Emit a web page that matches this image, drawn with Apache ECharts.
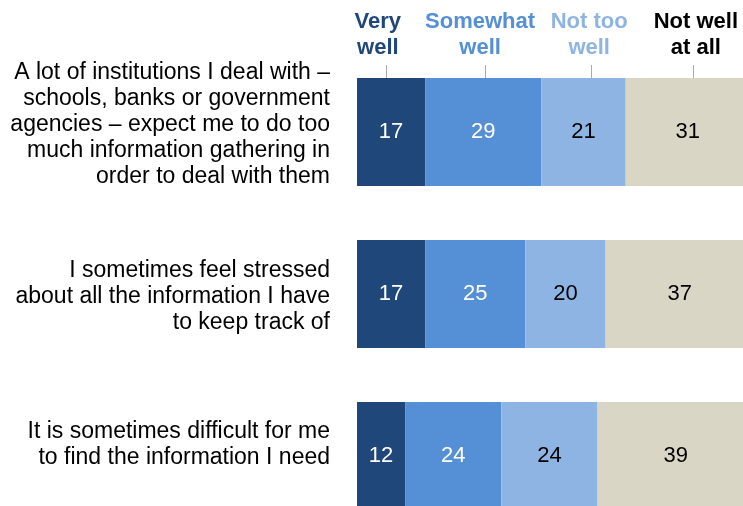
<!DOCTYPE html>
<html>
<head>
<meta charset="utf-8">
<script src="https://cdn.jsdelivr.net/npm/echarts@6/dist/echarts.min.js"></script>
<style>html,body{margin:0;padding:0;background:#fff}#c{width:743px;height:506px}</style>
</head>
<body>
<div id="c"></div>
<script>
var categories = [
  'A lot of institutions I deal with –\nschools, banks or government\nagencies – expect me to do too\nmuch information gathering in\norder to deal with them',
  'I sometimes feel stressed\nabout all the information I have\nto keep track of',
  'It is sometimes difficult for me\nto find the information I need'
];
var seriesNames = ['Very well', 'Somewhat well', 'Not too well', 'Not well at all'];
var headerLabels = ['Very\nwell', 'Somewhat\nwell', 'Not too\nwell', 'Not well\nat all'];
var veryWell = [17, 17, 12];
var somewhatWell = [29, 25, 24];
var notTooWell = [21, 20, 24];
var notWellAtAll = [31, 37, 39];
var headerPositions = [5.2, 30.7, 57.9, 84.5]; // header text centres in axis units
var tickPositions = [7.15, 31.9, 58.4, 83.8];  // header tick marks in axis units

var colors = ['#1f477a', '#558fd5', '#8eb4e3', '#dad6c6'];
var labelColors = ['#ffffff', '#ffffff', '#000000', '#000000'];
var labelShift = [-7, 3, -11];
var values = [veryWell, somewhatWell, notTooWell, notWellAtAll];
var FONT = '"Liberation Sans", Arial, sans-serif';

var chart = echarts.init(document.getElementById('c'), null, {renderer: 'canvas'});

var series = values.map(function (arr, i) {
  return {
    name: seriesNames[i],
    type: 'bar',
    stack: 'total',
    barCategoryGap: '33.3%',
    data: arr,
    itemStyle: {color: colors[i]},
    label: {
      show: true,
      position: 'inside',
      color: labelColors[i],
      fontSize: 22,
      fontFamily: FONT
    },
    emphasis: {disabled: true},
    silent: true,
    animation: false
  };
});

chart.setOption({
  animation: false,
  grid: {left: 357, top: 51, width: 401, height: 486, containLabel: false, outerBoundsMode: 'none'},
  xAxis: {
    type: 'value', min: 0, max: 100,
    show: false
  },
  yAxis: {
    type: 'category',
    inverse: true,
    data: categories,
    axisLine: {show: false},
    axisTick: {show: false},
    axisLabel: {show: false}
  },
  series: series
});

var graphics = [];
categories.forEach(function (c, i) {
  var p = chart.convertToPixel({gridIndex: 0}, [0, i]);
  graphics.push({
    type: 'text',
    x: p[0] - 27, y: p[1] + labelShift[i],
    style: {
      text: c,
      fill: '#000000',
      font: '23px ' + FONT,
      lineHeight: 26,
      textAlign: 'right',
      textVerticalAlign: 'middle'
    },
    silent: true
  });
});
headerPositions.forEach(function (v, i) {
  var p = chart.convertToPixel({gridIndex: 0}, [v, 0]);
  graphics.push({
    type: 'text',
    x: p[0], y: 9,
    style: {
      text: headerLabels[i],
      fill: i === 3 ? '#000000' : colors[i],
      font: 'bold 22px ' + FONT,
      lineHeight: 26,
      textAlign: 'center',
      textVerticalAlign: 'top'
    },
    silent: true
  });
});
tickPositions.forEach(function (v) {
  var p = chart.convertToPixel({gridIndex: 0}, [v, 0]);
  var x = Math.round(p[0]) + 0.5;
  graphics.push({
    type: 'line',
    shape: {x1: x, y1: 65, x2: x, y2: 78},
    style: {stroke: '#aaaaaa', lineWidth: 1},
    silent: true
  });
});
chart.setOption({graphic: graphics});
</script>
</body>
</html>
